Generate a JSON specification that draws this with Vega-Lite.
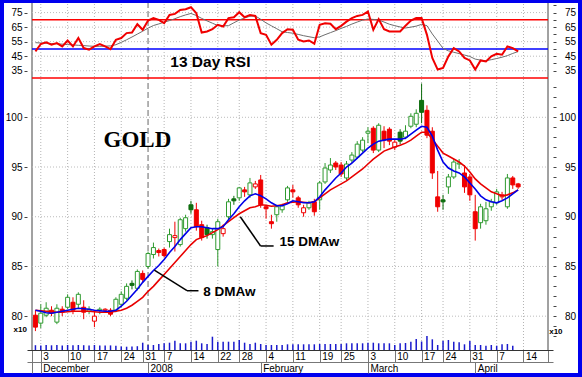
{
"$schema": "https://vega.github.io/schema/vega-lite/v6.json",
"width": 574, "height": 370,
"autosize": {"type": "none"},
"padding": {"left": 4, "top": 3, "right": 4, "bottom": 4},
"background": "#0000ee",
"config": {"view": {"fill": "white", "stroke": null}, "axis": {"labelFont": "Liberation Sans", "labelFontSize": 10, "labelColor": "black", "labelFlush": false, "labelOverlap": false, "grid": false, "tickColor": "#444"}},
"datasets": {
"wk": [{"i":1},{"i":6},{"i":11},{"i":16},{"i":24},{"i":29},{"i":34},{"i":38},{"i":43},{"i":48},{"i":53},{"i":57},{"i":62},{"i":67},{"i":72},{"i":76},{"i":81},{"i":86},{"i":91}],
"d": [
{"i":0,"o":80.1,"h":80.6,"l":78.5,"c":78.9,"t":"fr","m8":80.6,"m15":80.6,"r":48.3,"s":54.3,"v":48},
{"i":1,"o":79.3,"h":81.2,"l":78.8,"c":80.3,"t":"hg","m8":80.5,"m15":80.55,"r":53.4,"s":54.1,"v":45},
{"i":2,"o":80.1,"h":81.4,"l":79.9,"c":80.8,"t":"hg","m8":80.35,"m15":80.5,"r":54.5,"s":53.9,"v":50},
{"i":3,"o":80.6,"h":81.0,"l":80.0,"c":80.3,"t":"fr","m8":80.3,"m15":80.45,"r":52.9,"s":53.7,"v":47},
{"i":4,"o":79.4,"h":81.2,"l":79.2,"c":80.8,"t":"hg","m8":80.4,"m15":80.4,"r":54.0,"s":53.5,"v":50},
{"i":5,"o":80.7,"h":81.0,"l":80.0,"c":80.4,"t":"fr","m8":80.5,"m15":80.4,"r":51.7,"s":53.3,"v":46},
{"i":6,"o":80.9,"h":82.2,"l":80.7,"c":81.9,"t":"hg","m8":80.6,"m15":80.45,"r":55.8,"s":53.0,"v":50},
{"i":7,"o":81.4,"h":81.9,"l":80.2,"c":80.6,"t":"fr","m8":80.7,"m15":80.5,"r":51.7,"s":52.8,"v":48},
{"i":8,"o":81.2,"h":82.4,"l":80.8,"c":82.2,"t":"hg","m8":80.8,"m15":80.5,"r":57.5,"s":52.5,"v":50},
{"i":9,"o":80.9,"h":81.6,"l":79.7,"c":80.4,"t":"fr","m8":80.75,"m15":80.5,"r":50.6,"s":52.3,"v":48},
{"i":10,"o":80.5,"h":81.0,"l":80.2,"c":80.7,"t":"hg","m8":80.7,"m15":80.5,"r":49.5,"s":52.0,"v":46},
{"i":11,"o":79.5,"h":80.6,"l":78.9,"c":80.0,"t":"hr","m8":80.6,"m15":80.45,"r":51.7,"s":51.8,"v":50},
{"i":12,"o":80.6,"h":80.9,"l":80.2,"c":80.7,"t":"hg","m8":80.55,"m15":80.4,"r":53.4,"s":51.8,"v":45},
{"i":13,"o":80.6,"h":80.8,"l":80.5,"c":80.7,"t":"hr","m8":80.5,"m15":80.4,"r":51.7,"s":51.9,"v":44},
{"i":14,"o":80.6,"h":80.8,"l":80.0,"c":80.2,"t":"fr","m8":80.5,"m15":80.4,"r":49.9,"s":52.1,"v":46},
{"i":15,"o":80.6,"h":81.9,"l":80.4,"c":81.7,"t":"hg","m8":80.6,"m15":80.5,"r":56.3,"s":52.9,"v":42},
{"i":16,"o":81.2,"h":82.5,"l":80.9,"c":82.2,"t":"hg","m8":81.0,"m15":80.6,"r":57.5,"s":54.5,"v":35},
{"i":17,"o":81.8,"h":83.3,"l":81.6,"c":83.0,"t":"hg","m8":81.5,"m15":80.8,"r":60.9,"s":56.3,"v":33},
{"i":18,"o":83.3,"h":83.6,"l":82.7,"c":83.1,"t":"fg","m8":82.1,"m15":81.1,"r":61.3,"s":58.2,"v":35},
{"i":19,"o":82.8,"h":84.7,"l":82.6,"c":84.5,"t":"hg","m8":82.7,"m15":81.5,"r":67.0,"s":60.2,"v":38},
{"i":20,"o":84.3,"h":84.6,"l":83.4,"c":83.7,"t":"fr","m8":83.4,"m15":81.9,"r":63.2,"s":62.2,"v":73},
{"i":21,"o":85.0,"h":86.5,"l":84.8,"c":86.3,"t":"hg","m8":84.0,"m15":82.5,"r":69.5,"s":64.3,"v":50},
{"i":22,"o":86.2,"h":87.4,"l":85.8,"c":86.9,"t":"hg","m8":84.6,"m15":83.0,"r":71.2,"s":66.1,"v":50},
{"i":23,"o":86.6,"h":86.8,"l":86.0,"c":86.4,"t":"fr","m8":85.1,"m15":83.6,"r":70.0,"s":67.2,"v":60},
{"i":24,"o":86.7,"h":86.9,"l":85.9,"c":86.1,"t":"fr","m8":85.7,"m15":84.2,"r":67.7,"s":68.4,"v":67},
{"i":25,"o":87.5,"h":88.8,"l":86.9,"c":88.2,"t":"hg","m8":86.4,"m15":84.8,"r":73.4,"s":69.5,"v":73},
{"i":26,"o":87.9,"h":89.5,"l":86.5,"c":88.1,"t":"hr","m8":87.0,"m15":85.4,"r":74.1,"s":70.8,"v":93},
{"i":27,"o":87.2,"h":89.9,"l":87.0,"c":89.7,"t":"hg","m8":87.7,"m15":86.0,"r":76.8,"s":72.2,"v":67},
{"i":28,"o":88.8,"h":90.2,"l":88.5,"c":89.9,"t":"hg","m8":88.3,"m15":86.6,"r":77.3,"s":73.4,"v":67},
{"i":29,"o":91.2,"h":91.6,"l":90.3,"c":90.7,"t":"fg","m8":88.9,"m15":87.2,"r":78.7,"s":74.4,"v":83},
{"i":30,"o":90.7,"h":91.4,"l":88.6,"c":89.0,"t":"fr","m8":89.0,"m15":87.7,"r":74.6,"s":73.0,"v":93},
{"i":31,"o":89.2,"h":89.6,"l":87.6,"c":87.9,"t":"fr","m8":89.0,"m15":87.9,"r":61.3,"s":71.0,"v":67},
{"i":32,"o":88.9,"h":89.2,"l":87.8,"c":88.2,"t":"fg","m8":88.9,"m15":88.1,"r":62.0,"s":69.3,"v":60},
{"i":33,"o":88.2,"h":88.8,"l":87.8,"c":88.5,"t":"hg","m8":88.8,"m15":88.4,"r":63.6,"s":67.7,"v":133},
{"i":34,"o":86.7,"h":89.8,"l":85.0,"c":89.5,"t":"hg","m8":88.8,"m15":88.7,"r":66.6,"s":66.1,"v":83},
{"i":35,"o":88.3,"h":89.2,"l":88.0,"c":88.8,"t":"hr","m8":89.0,"m15":89.1,"r":65.4,"s":65.9,"v":83},
{"i":36,"o":90.0,"h":91.8,"l":89.7,"c":91.5,"t":"hg","m8":89.7,"m15":89.5,"r":71.2,"s":66.0,"v":83},
{"i":37,"o":91.8,"h":92.1,"l":91.2,"c":91.6,"t":"fg","m8":90.3,"m15":89.9,"r":71.8,"s":68.0,"v":83},
{"i":38,"o":91.9,"h":93.0,"l":91.6,"c":92.9,"t":"hg","m8":91.0,"m15":90.3,"r":75.3,"s":69.9,"v":100},
{"i":39,"o":92.7,"h":93.0,"l":92.0,"c":92.5,"t":"fr","m8":91.6,"m15":90.6,"r":71.8,"s":71.3,"v":73},
{"i":40,"o":92.2,"h":93.9,"l":91.9,"c":93.4,"t":"hg","m8":92.1,"m15":90.9,"r":73.4,"s":72.5,"v":60},
{"i":41,"o":93.0,"h":93.6,"l":92.8,"c":93.3,"t":"hr","m8":92.3,"m15":91.0,"r":72.7,"s":72.7,"v":73},
{"i":42,"o":93.7,"h":94.2,"l":90.9,"c":91.2,"t":"fr","m8":92.1,"m15":91.2,"r":60.9,"s":70.4,"v":60},
{"i":43,"o":91.0,"h":91.2,"l":89.8,"c":90.8,"t":"fr","m8":91.8,"m15":91.15,"r":59.7,"s":67.9,"v":50},
{"i":44,"o":89.5,"h":90.2,"l":88.8,"c":89.3,"t":"fr","m8":91.4,"m15":91.05,"r":52.9,"s":65.9,"v":50},
{"i":45,"o":90.2,"h":91.2,"l":89.5,"c":91.0,"t":"hg","m8":91.1,"m15":91.1,"r":56.3,"s":63.9,"v":50},
{"i":46,"o":90.7,"h":91.3,"l":90.4,"c":91.1,"t":"hg","m8":91.1,"m15":91.2,"r":60.9,"s":61.8,"v":50},
{"i":47,"o":91.7,"h":93.1,"l":91.5,"c":92.9,"t":"hg","m8":91.3,"m15":91.4,"r":63.6,"s":61.3,"v":57},
{"i":48,"o":92.7,"h":93.2,"l":91.9,"c":92.5,"t":"fr","m8":91.6,"m15":91.45,"r":63.2,"s":60.8,"v":57},
{"i":49,"o":91.9,"h":92.1,"l":90.9,"c":91.2,"t":"fr","m8":91.5,"m15":91.5,"r":56.3,"s":60.0,"v":57},
{"i":50,"o":90.4,"h":91.2,"l":90.0,"c":90.9,"t":"hr","m8":91.4,"m15":91.45,"r":55.1,"s":59.1,"v":57},
{"i":51,"o":90.9,"h":91.6,"l":90.7,"c":91.4,"t":"hg","m8":91.4,"m15":91.4,"r":55.8,"s":58.4,"v":57},
{"i":52,"o":91.5,"h":91.8,"l":90.1,"c":90.5,"t":"fr","m8":91.5,"m15":91.5,"r":53.6,"s":57.7,"v":57},
{"i":53,"o":91.7,"h":93.6,"l":90.7,"c":93.4,"t":"hg","m8":92.0,"m15":91.9,"r":66.6,"s":58.3,"v":60},
{"i":54,"o":93.5,"h":95.4,"l":93.3,"c":94.9,"t":"hg","m8":92.7,"m15":92.3,"r":67.7,"s":59.8,"v":60},
{"i":55,"o":94.7,"h":95.9,"l":94.4,"c":95.2,"t":"hg","m8":93.3,"m15":92.7,"r":67.3,"s":61.2,"v":60},
{"i":56,"o":95.4,"h":95.6,"l":94.7,"c":95.0,"t":"fr","m8":93.9,"m15":93.0,"r":63.6,"s":62.6,"v":60},
{"i":57,"o":95.2,"h":95.5,"l":94.0,"c":94.3,"t":"fr","m8":94.4,"m15":93.3,"r":65.9,"s":64.1,"v":60},
{"i":58,"o":93.9,"h":95.6,"l":93.7,"c":95.3,"t":"hg","m8":95.0,"m15":93.6,"r":68.8,"s":65.5,"v":67},
{"i":59,"o":95.7,"h":96.5,"l":95.4,"c":96.2,"t":"hg","m8":95.4,"m15":94.0,"r":71.2,"s":67.1,"v":67},
{"i":60,"o":96.0,"h":97.6,"l":95.8,"c":97.3,"t":"hg","m8":95.9,"m15":94.4,"r":72.7,"s":68.5,"v":67},
{"i":61,"o":96.7,"h":98.0,"l":96.5,"c":97.7,"t":"hg","m8":96.4,"m15":94.8,"r":73.4,"s":69.8,"v":67},
{"i":62,"o":98.4,"h":99.0,"l":97.4,"c":98.6,"t":"hg","m8":96.9,"m15":95.3,"r":75.7,"s":70.6,"v":73},
{"i":63,"o":98.9,"h":99.1,"l":96.4,"c":96.7,"t":"fr","m8":97.3,"m15":95.8,"r":63.2,"s":70.3,"v":73},
{"i":64,"o":96.7,"h":99.4,"l":96.5,"c":99.2,"t":"hg","m8":97.6,"m15":96.2,"r":70.5,"s":69.9,"v":67},
{"i":65,"o":98.6,"h":99.1,"l":96.9,"c":97.7,"t":"fr","m8":97.7,"m15":96.6,"r":63.6,"s":68.5,"v":67},
{"i":66,"o":98.8,"h":99.0,"l":97.2,"c":97.6,"t":"fr","m8":97.8,"m15":96.8,"r":62.0,"s":67.0,"v":67},
{"i":67,"o":97.0,"h":97.8,"l":96.7,"c":97.5,"t":"hr","m8":97.8,"m15":97.0,"r":62.0,"s":66.0,"v":50},
{"i":68,"o":98.5,"h":98.8,"l":97.3,"c":97.6,"t":"fg","m8":97.8,"m15":97.2,"r":62.0,"s":65.1,"v":67},
{"i":69,"o":98.0,"h":99.2,"l":97.8,"c":98.6,"t":"hg","m8":97.9,"m15":97.4,"r":65.9,"s":64.4,"v":70},
{"i":70,"o":99.1,"h":100.4,"l":98.9,"c":100.1,"t":"hg","m8":98.3,"m15":97.7,"r":69.5,"s":65.0,"v":83},
{"i":71,"o":99.3,"h":100.8,"l":99.0,"c":100.4,"t":"hg","m8":98.7,"m15":98.1,"r":71.2,"s":65.7,"v":110},
{"i":72,"o":101.7,"h":103.4,"l":99.4,"c":100.5,"t":"fg","m8":99.1,"m15":98.5,"r":71.2,"s":66.9,"v":85},
{"i":73,"o":100.7,"h":101.2,"l":97.9,"c":98.2,"t":"fr","m8":99.0,"m15":98.5,"r":59.7,"s":66.0,"v":140},
{"i":74,"o":98.6,"h":99.0,"l":93.8,"c":94.4,"t":"fr","m8":98.1,"m15":97.8,"r":43.8,"s":60.3,"v":107},
{"i":75,"o":92.0,"h":94.6,"l":90.5,"c":91.0,"t":"fr","m8":96.7,"m15":97.1,"r":35.8,"s":55.4,"v":50},
{"i":76,"o":91.7,"h":92.2,"l":90.7,"c":91.5,"t":"fg","m8":95.5,"m15":96.4,"r":37.0,"s":50.4,"v":93},
{"i":77,"o":93.0,"h":94.3,"l":92.3,"c":94.0,"t":"hg","m8":94.9,"m15":96.1,"r":44.9,"s":48.7,"v":100},
{"i":78,"o":94.0,"h":95.8,"l":93.8,"c":95.5,"t":"hg","m8":94.6,"m15":95.8,"r":50.6,"s":47.7,"v":83},
{"i":79,"o":95.3,"h":95.8,"l":94.8,"c":95.4,"t":"hg","m8":94.4,"m15":95.5,"r":48.3,"s":46.8,"v":77},
{"i":80,"o":94.4,"h":95.2,"l":92.4,"c":93.0,"t":"fr","m8":94.0,"m15":95.1,"r":43.8,"s":45.8,"v":57},
{"i":81,"o":94.0,"h":94.3,"l":91.6,"c":92.2,"t":"fr","m8":93.4,"m15":94.5,"r":42.1,"s":44.8,"v":90},
{"i":82,"o":90.5,"h":92.2,"l":87.6,"c":88.8,"t":"fr","m8":92.8,"m15":93.8,"r":35.8,"s":43.0,"v":50},
{"i":83,"o":89.4,"h":91.3,"l":88.8,"c":91.0,"t":"hg","m8":92.1,"m15":93.3,"r":42.1,"s":42.3,"v":50},
{"i":84,"o":89.6,"h":91.5,"l":89.2,"c":90.8,"t":"hg","m8":91.7,"m15":92.9,"r":41.4,"s":41.9,"v":43},
{"i":85,"o":91.0,"h":91.8,"l":90.6,"c":91.5,"t":"hg","m8":91.5,"m15":92.5,"r":44.9,"s":42.6,"v":50},
{"i":86,"o":91.4,"h":92.8,"l":91.2,"c":92.5,"t":"hg","m8":91.4,"m15":92.3,"r":46.7,"s":43.4,"v":43},
{"i":87,"o":92.0,"h":92.5,"l":91.7,"c":92.2,"t":"hr","m8":91.6,"m15":92.1,"r":46.0,"s":44.3,"v":57},
{"i":88,"o":91.0,"h":94.3,"l":90.8,"c":93.9,"t":"hg","m8":91.9,"m15":92.2,"r":51.7,"s":45.4,"v":60},
{"i":89,"o":93.9,"h":94.1,"l":92.8,"c":93.2,"t":"fr","m8":92.3,"m15":92.4,"r":50.6,"s":46.9,"v":43},
{"i":90,"o":93.3,"h":93.4,"l":92.8,"c":93.0,"t":"fr","m8":92.7,"m15":92.7,"r":48.3,"s":48.2,"v":null}
]},
"layer": [
{"data": {"name": "wk"}, "mark": {"type": "rule", "color": "#b4b4b4", "strokeDash": [1, 2], "strokeWidth": 1},
 "encoding": {"x": {"field": "i", "type": "quantitative", "scale": {"domain": [-0.64, 95.57], "range": [23, 549], "nice": false, "zero": false},
   "axis": {"orient": "bottom", "offset": -11, "values": [-0.64, 1, 21, 42, 62, 82], "labelExpr": "indexof([1,21,42,62,82], datum.value) < 0 ? '' : ['December','2008','February','March','April'][indexof([1,21,42,62,82], datum.value)]", "tickSize": 11, "tickColor": "#777", "domainColor": "#777", "labelAlign": "left", "labelBaseline": "top", "labelOffset": 2, "labelPadding": -10, "title": null, "grid": false}},
  "y": {"datum": 0, "type": "quantitative", "scale": {"domain": [0, 1], "range": [347, 0], "nice": false, "zero": false}, "axis": null}, "y2": {"datum": 1}}},
{"layer": [
 {"data": {"values": [{}]}, "mark": {"type": "rule", "color": "#9a9a9a", "strokeDash": [6, 3], "strokeWidth": 1.5},
  "encoding": {"x": {"datum": 21, "type": "quantitative", "scale": {"domain": [-0.64, 95.57], "range": [23, 549], "nice": false, "zero": false}, "axis": null},
   "y": {"datum": 0, "type": "quantitative", "scale": {"domain": [0, 1], "range": [347, 0], "nice": false, "zero": false}, "axis": null}, "y2": {"datum": 1}}},
 {"data": {"values": [{}]}, "mark": {"type": "rule", "color": "#444", "strokeWidth": 1},
  "encoding": {"x": {"datum": -0.64, "type": "quantitative", "scale": {"domain": [-0.64, 95.57], "range": [23, 549], "nice": false, "zero": false}, "axis": null},
   "y": {"datum": 0, "type": "quantitative", "scale": {"domain": [0, 1], "range": [347, 0], "nice": false, "zero": false}, "axis": null}, "y2": {"datum": 1}}},
 {"data": {"values": [{}]}, "mark": {"type": "rule", "color": "#444", "strokeWidth": 1},
  "encoding": {"x": {"datum": 95.57, "type": "quantitative", "scale": {"domain": [-0.64, 95.57], "range": [23, 549], "nice": false, "zero": false}, "axis": null},
   "y": {"datum": 0, "type": "quantitative", "scale": {"domain": [0, 1], "range": [347, 0], "nice": false, "zero": false}, "axis": null}, "y2": {"datum": 1}}}
]},
{"data": {"values": [{"g": 35}, {"g": 45}, {"g": 55}, {"g": 65}, {"g": 75}]}, "mark": {"type": "rule", "color": "#bcbcbc", "strokeDash": [1, 2]},
 "encoding": {"x": {"datum": -0.64, "type": "quantitative", "scale": {"domain": [-0.64, 95.57], "range": [23, 549], "nice": false, "zero": false}, "axis": null}, "x2": {"datum": 95.57},
  "y": {"field": "g", "type": "quantitative", "scale": {"domain": [30, 81.6], "range": [75, 0], "nice": false, "zero": false},
   "axis": {"orient": "right", "offset": -25, "values": [35, 40, 45, 50, 55, 60, 65, 70, 75, 80], "labelExpr": "datum.value % 10 == 5 ? datum.label : ''", "tickSize": 3, "domain": false, "labelAlign": "right", "labelPadding": 19.5, "title": null, "grid": false}}}},
{"data": {"values": [{"lvl": 70}, {"lvl": 30}]}, "mark": {"type": "rule", "color": "#ff0000", "strokeWidth": 1.5},
 "encoding": {"x": {"datum": -0.64, "type": "quantitative", "scale": {"domain": [-0.64, 95.57], "range": [23, 549], "nice": false, "zero": false}, "axis": null}, "x2": {"datum": 95.57},
  "y": {"field": "lvl", "type": "quantitative", "scale": {"domain": [30, 81.6], "range": [75, 0], "nice": false, "zero": false}, "axis": null}}},
{"data": {"values": [{"lvl": 50}]}, "mark": {"type": "rule", "color": "#0000ff", "strokeWidth": 1.5},
 "encoding": {"x": {"datum": -0.64, "type": "quantitative", "scale": {"domain": [-0.64, 95.57], "range": [23, 549], "nice": false, "zero": false}, "axis": null}, "x2": {"datum": 95.57},
  "y": {"field": "lvl", "type": "quantitative", "scale": {"domain": [30, 81.6], "range": [75, 0], "nice": false, "zero": false}, "axis": null}}},
{"data": {"name": "d"}, "mark": {"type": "line", "color": "#6e6e6e", "strokeWidth": 1},
 "encoding": {"x": {"field": "i", "type": "quantitative", "scale": {"domain": [-0.64, 95.57], "range": [23, 549], "nice": false, "zero": false}, "axis": null},
  "y": {"field": "s", "type": "quantitative", "scale": {"domain": [30, 81.6], "range": [75, 0], "nice": false, "zero": false},
   "axis": {"orient": "left", "offset": -23, "values": [35, 45, 55, 65, 75], "tickSize": 3, "domain": false, "labelPadding": 2, "title": null, "grid": false}}}},
{"layer": [
 {"data": {"name": "d"}, "mark": {"type": "line", "color": "#f00000", "strokeWidth": 2},
  "encoding": {"x": {"field": "i", "type": "quantitative", "scale": {"domain": [-0.64, 95.57], "range": [23, 549], "nice": false, "zero": false}, "axis": null},
   "y": {"field": "r", "type": "quantitative", "scale": {"domain": [30, 81.6], "range": [75, 0], "nice": false, "zero": false}, "axis": null}}},
 {"data": {"values": [{}]}, "mark": {"type": "text", "text": "13 Day RSI", "font": "Liberation Sans", "fontSize": 15.5, "fontWeight": "bold", "align": "left", "baseline": "alphabetic", "color": "black"},
  "encoding": {"x": {"datum": 25.15, "type": "quantitative", "scale": {"domain": [-0.64, 95.57], "range": [23, 549], "nice": false, "zero": false}, "axis": null},
   "y": {"datum": 37.8, "type": "quantitative", "scale": {"domain": [30, 81.6], "range": [75, 0], "nice": false, "zero": false}, "axis": null}}}
]},
{"data": {"values": [{"g": 80}, {"g": 85}, {"g": 90}, {"g": 95}, {"g": 100}]}, "mark": {"type": "rule", "color": "#bcbcbc", "strokeDash": [1, 2]},
 "encoding": {"x": {"datum": -0.64, "type": "quantitative", "scale": {"domain": [-0.64, 95.57], "range": [23, 549], "nice": false, "zero": false}, "axis": null}, "x2": {"datum": 95.57},
  "y": {"field": "g", "type": "quantitative", "scale": {"domain": [76.6, 103.95], "range": [347, 75], "nice": false, "zero": false},
   "axis": {"orient": "right", "offset": -25, "values": [78, 79, 80, 81, 82, 83, 84, 85, 86, 87, 88, 89, 90, 91, 92, 93, 94, 95, 96, 97, 98, 99, 100, 101, 102, 103], "labelExpr": "datum.value % 5 == 0 ? datum.label : ''", "tickSize": 3, "domain": false, "labelAlign": "right", "labelPadding": 19.5, "title": null, "grid": false}}}},
{"data": {"name": "d"}, "mark": {"type": "rule", "strokeWidth": 1},
 "encoding": {"x": {"field": "i", "type": "quantitative", "scale": {"domain": [-0.64, 95.57], "range": [23, 549], "nice": false, "zero": false}, "axis": null},
  "y": {"field": "l", "type": "quantitative", "scale": {"domain": [76.6, 103.95], "range": [347, 75], "nice": false, "zero": false},
   "axis": {"orient": "left", "offset": -23, "values": [80, 85, 90, 95, 100], "tickSize": 3, "domain": false, "labelPadding": 2, "title": null, "grid": false}},
  "y2": {"field": "h"},
  "stroke": {"field": "t", "type": "nominal", "scale": {"domain": ["hg", "hr", "fg", "fr"], "range": ["#2f9a2f", "#f00000", "#0b6b0b", "#f00000"]}, "legend": null}}},
{"layer": [
 {"data": {"name": "d"}, "mark": {"type": "bar", "size": 4, "strokeWidth": 1},
  "encoding": {"x": {"field": "i", "type": "quantitative", "scale": {"domain": [-0.64, 95.57], "range": [23, 549], "nice": false, "zero": false}, "axis": null},
   "y": {"field": "o", "type": "quantitative", "scale": {"domain": [76.6, 103.95], "range": [347, 75], "nice": false, "zero": false}, "axis": null},
   "y2": {"field": "c"},
   "stroke": {"field": "t", "type": "nominal", "scale": {"domain": ["hg", "hr", "fg", "fr"], "range": ["#2f9a2f", "#f00000", "#0b6b0b", "#f00000"]}, "legend": null},
   "fill": {"field": "t", "type": "nominal", "scale": {"domain": ["hg", "hr", "fg", "fr"], "range": ["#ffffff", "#ffffff", "#107010", "#f00000"]}, "legend": null}}},
 {"data": {"name": "d"}, "mark": {"type": "line", "color": "#e80000", "strokeWidth": 1.6},
  "encoding": {"x": {"field": "i", "type": "quantitative", "scale": {"domain": [-0.64, 95.57], "range": [23, 549], "nice": false, "zero": false}, "axis": null},
   "y": {"field": "m15", "type": "quantitative", "scale": {"domain": [76.6, 103.95], "range": [347, 75], "nice": false, "zero": false}, "axis": null}}},
 {"data": {"name": "d"}, "mark": {"type": "line", "color": "#0000e8", "strokeWidth": 1.6},
  "encoding": {"x": {"field": "i", "type": "quantitative", "scale": {"domain": [-0.64, 95.57], "range": [23, 549], "nice": false, "zero": false}, "axis": null},
   "y": {"field": "m8", "type": "quantitative", "scale": {"domain": [76.6, 103.95], "range": [347, 75], "nice": false, "zero": false}, "axis": null}}},
 {"data": {"values": [{}]}, "mark": {"type": "rule", "color": "black", "strokeWidth": 1.5},
  "encoding": {"x": {"datum": 38.19, "type": "quantitative", "scale": {"domain": [-0.64, 95.57], "range": [23, 549], "nice": false, "zero": false}, "axis": null}, "x2": {"datum": 41.98},
   "y": {"datum": 90.0, "type": "quantitative", "scale": {"domain": [76.6, 103.95], "range": [347, 75], "nice": false, "zero": false}, "axis": null}, "y2": {"datum": 87.06}}},
 {"data": {"values": [{}]}, "mark": {"type": "rule", "color": "black", "strokeWidth": 1.5},
  "encoding": {"x": {"datum": 41.98, "type": "quantitative", "scale": {"domain": [-0.64, 95.57], "range": [23, 549], "nice": false, "zero": false}, "axis": null}, "x2": {"datum": 44.41},
   "y": {"datum": 87.06, "type": "quantitative", "scale": {"domain": [76.6, 103.95], "range": [347, 75], "nice": false, "zero": false}, "axis": null}, "y2": {"datum": 87.06}}},
 {"data": {"values": [{}]}, "mark": {"type": "rule", "color": "black", "strokeWidth": 1.5},
  "encoding": {"x": {"datum": 22.17, "type": "quantitative", "scale": {"domain": [-0.64, 95.57], "range": [23, 549], "nice": false, "zero": false}, "axis": null}, "x2": {"datum": 28.26},
   "y": {"datum": 84.64, "type": "quantitative", "scale": {"domain": [76.6, 103.95], "range": [347, 75], "nice": false, "zero": false}, "axis": null}, "y2": {"datum": 82.56}}},
 {"data": {"values": [{}]}, "mark": {"type": "rule", "color": "black", "strokeWidth": 1.5},
  "encoding": {"x": {"datum": 28.26, "type": "quantitative", "scale": {"domain": [-0.64, 95.57], "range": [23, 549], "nice": false, "zero": false}, "axis": null}, "x2": {"datum": 30.4},
   "y": {"datum": 82.56, "type": "quantitative", "scale": {"domain": [76.6, 103.95], "range": [347, 75], "nice": false, "zero": false}, "axis": null}, "y2": {"datum": 82.56}}},
 {"data": {"values": [{}]}, "mark": {"type": "text", "text": "GOLD", "font": "Liberation Serif", "fontSize": 23, "fontWeight": "bold", "align": "left", "baseline": "alphabetic", "color": "black"},
  "encoding": {"x": {"datum": 12.7, "type": "quantitative", "scale": {"domain": [-0.64, 95.57], "range": [23, 549], "nice": false, "zero": false}, "axis": null},
   "y": {"datum": 97.05, "type": "quantitative", "scale": {"domain": [76.6, 103.95], "range": [347, 75], "nice": false, "zero": false}, "axis": null}}},
 {"data": {"values": [{}]}, "mark": {"type": "text", "text": "15 DMAw", "font": "Liberation Sans", "fontSize": 13.5, "fontWeight": "bold", "align": "left", "baseline": "alphabetic", "color": "black"},
  "encoding": {"x": {"datum": 45.51, "type": "quantitative", "scale": {"domain": [-0.64, 95.57], "range": [23, 549], "nice": false, "zero": false}, "axis": null},
   "y": {"datum": 87.01, "type": "quantitative", "scale": {"domain": [76.6, 103.95], "range": [347, 75], "nice": false, "zero": false}, "axis": null}}},
 {"data": {"values": [{}]}, "mark": {"type": "text", "text": "8 DMAw", "font": "Liberation Sans", "fontSize": 13.5, "fontWeight": "bold", "align": "left", "baseline": "alphabetic", "color": "black"},
  "encoding": {"x": {"datum": 31.3, "type": "quantitative", "scale": {"domain": [-0.64, 95.57], "range": [23, 549], "nice": false, "zero": false}, "axis": null},
   "y": {"datum": 82.08, "type": "quantitative", "scale": {"domain": [76.6, 103.95], "range": [347, 75], "nice": false, "zero": false}, "axis": null}}}
]},
{"data": {"name": "d"}, "mark": {"type": "bar", "color": "#1a1acc", "size": 1.5},
 "encoding": {"x": {"field": "i", "type": "quantitative", "scale": {"domain": [-0.64, 95.57], "range": [23, 549], "nice": false, "zero": false},
   "axis": {"orient": "bottom", "offset": -23, "values": [-0.64, 1, 6, 11, 16, 20, 24, 29, 34, 38, 43, 48, 53, 57, 62, 67, 72, 76, 81, 86, 91, 95.57], "labelExpr": "indexof([1,6,11,16,20,24,29,34,38,43,48,53,57,62,67,72,76,81,86,91], datum.value) < 0 ? '' : ['3','10','17','24','31','7','14','22','28','4','11','19','25','3','10','17','24','31','7','14'][indexof([1,6,11,16,20,24,29,34,38,43,48,53,57,62,67,72,76,81,86,91], datum.value)]", "tickSize": 12, "tickColor": "#777", "domainColor": "#333", "labelAlign": "left", "labelBaseline": "top", "labelOffset": 2, "labelPadding": -10.5, "title": null, "grid": false}},
  "y": {"field": "v", "type": "quantitative", "scale": {"domain": [0, 150], "range": [347, 332], "nice": false, "zero": true}, "axis": null}}},
{"layer": [
 {"data": {"values": [{}]}, "mark": {"type": "text", "text": "x10", "font": "Liberation Sans", "fontSize": 8, "fontWeight": "bold", "align": "center", "baseline": "middle", "color": "black"},
  "encoding": {"x": {"datum": -2.84, "type": "quantitative", "scale": {"domain": [-0.64, 95.57], "range": [23, 549], "nice": false, "zero": false}, "axis": null},
   "y": {"datum": 200, "type": "quantitative", "scale": {"domain": [0, 150], "range": [347, 332], "nice": false, "zero": true}, "axis": null}}},
 {"data": {"values": [{}]}, "mark": {"type": "text", "text": "x10", "font": "Liberation Sans", "fontSize": 8, "fontWeight": "bold", "align": "center", "baseline": "middle", "color": "black"},
  "encoding": {"x": {"datum": 97.04, "type": "quantitative", "scale": {"domain": [-0.64, 95.57], "range": [23, 549], "nice": false, "zero": false}, "axis": null},
   "y": {"datum": 180, "type": "quantitative", "scale": {"domain": [0, 150], "range": [347, 332], "nice": false, "zero": true}, "axis": null}}}
]}
],
"resolve": {"scale": {"y": "independent"}, "axis": {"x": "independent", "y": "independent"}}
}
